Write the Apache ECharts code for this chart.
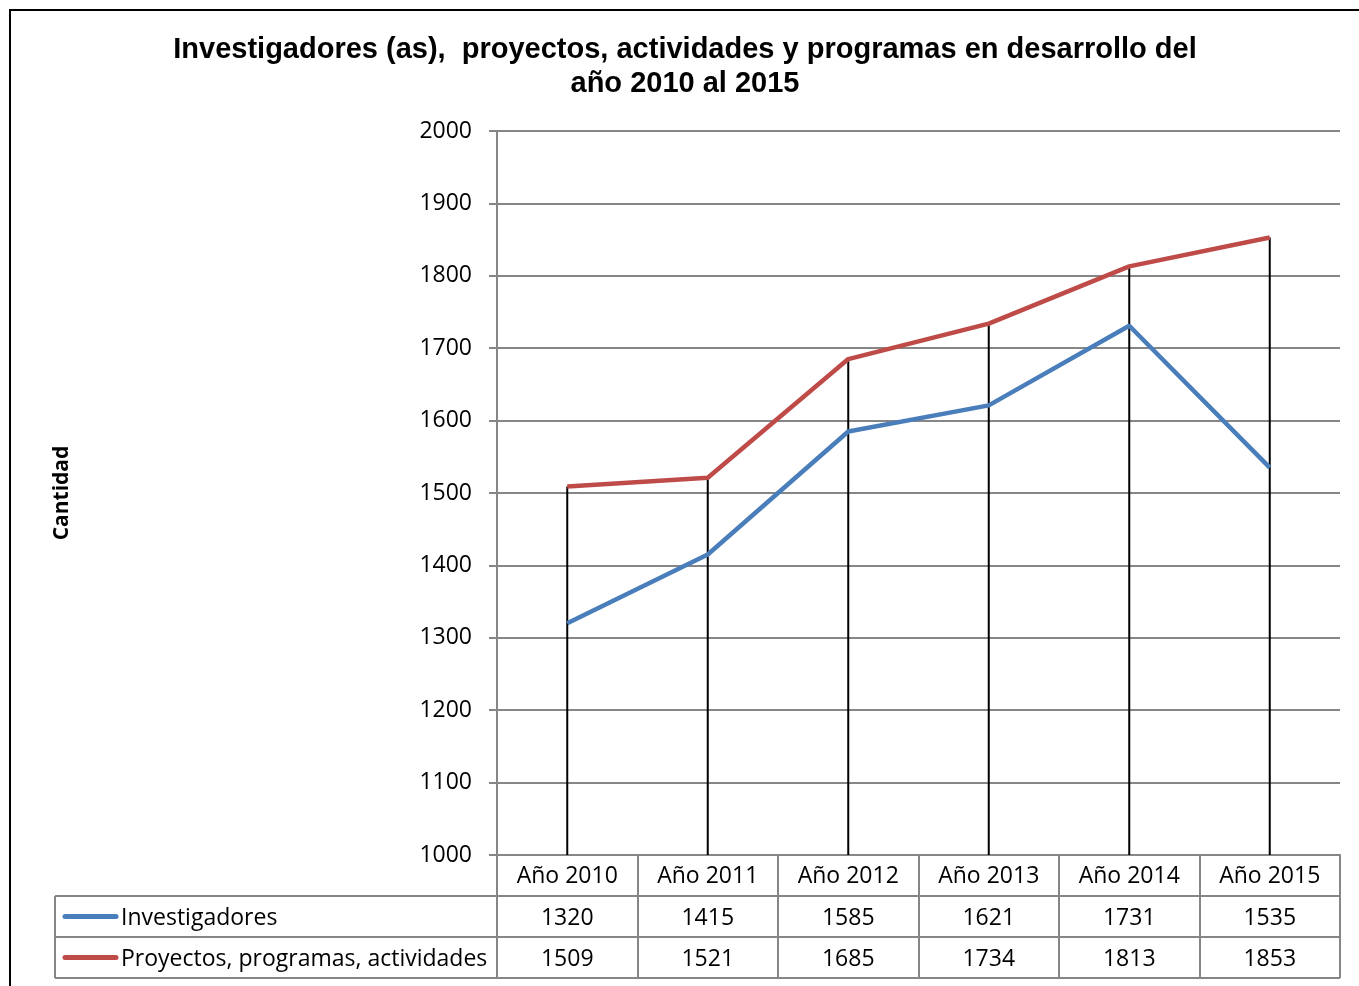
<!DOCTYPE html>
<html>
<head>
<meta charset="utf-8">
<script src="https://cdn.jsdelivr.net/npm/echarts@6/dist/echarts.min.js"></script>
<style>
    html, body { margin: 0; padding: 0; background: #fff; }
    #chart { width: 1359px; height: 986px; }
</style>
</head>
<body>
<div id="chart"></div>
<script>
    // datos del gráfico
    var categories = ['Año 2010', 'Año 2011', 'Año 2012', 'Año 2013', 'Año 2014', 'Año 2015'];
    var investigadores = [1320, 1415, 1585, 1621, 1731, 1535];
    var proyectos = [1509, 1521, 1685, 1734, 1813, 1853];
    var seriesNames = ['Investigadores', 'Proyectos, programas, actividades'];
    var titleLines = ['Investigadores (as),  proyectos, actividades y programas en desarrollo del', 'año 2010 al 2015'];

    var colors = ['#4A7EBB', '#BE4B48'];
    var gridColor = '#868686';
    var font = '"Open Sans"';
    var fontSize = 23;

    var myChart = echarts.init(document.getElementById('chart'));

    // líneas de máximo a mínimo (desde el punto más alto hasta el eje)
    var dropData = categories.map(function (c, i) {
        return [i, Math.max(investigadores[i], proyectos[i])];
    });

    var option = {
        animation: false,
        color: colors,
        grid: {
            left: 497,
            top: 131,
            width: 843,
            height: 724,
            outerBoundsMode: 'none'
        },
        xAxis: {
            type: 'category',
            data: categories,
            boundaryGap: true,
            axisLine: {show: true, lineStyle: {color: gridColor, width: 2}},
            axisTick: {show: true, length: 123, lineStyle: {color: gridColor, width: 2}},
            axisLabel: {margin: 10, color: '#000', fontFamily: 'Open Sans', fontSize: fontSize},
            splitLine: {show: false}
        },
        yAxis: {
            type: 'value',
            min: 1000,
            max: 2000,
            interval: 100,
            name: 'Cantidad',
            nameLocation: 'middle',
            nameRotate: 90,
            nameGap: 424,
            nameTextStyle: {color: '#000', fontFamily: 'Open Sans', fontSize: 21, fontWeight: 'bold'},
            axisLine: {show: true, lineStyle: {color: gridColor, width: 2}},
            axisTick: {show: true, length: 8, lineStyle: {color: gridColor, width: 2}},
            axisLabel: {
                margin: 25, color: '#000', fontFamily: 'Open Sans', fontSize: fontSize,
                formatter: function (v) { return String(v); }
            },
            splitLine: {show: true, lineStyle: {color: gridColor, width: 2}}
        },
        series: [
            {
                type: 'custom',
                name: 'drop',
                data: dropData,
                z: 1,
                renderItem: function (params, api) {
                    var top = api.coord([api.value(0), api.value(1)]);
                    var bottom = api.coord([api.value(0), 1000]);
                    return {
                        type: 'line',
                        shape: {x1: top[0], y1: top[1], x2: bottom[0], y2: bottom[1]},
                        style: {stroke: '#000', lineWidth: 2}
                    };
                }
            },
            {
                name: seriesNames[0],
                type: 'line',
                data: investigadores,
                symbol: 'none',
                z: 3,
                lineStyle: {color: colors[0], width: 4.5}
            },
            {
                name: seriesNames[1],
                type: 'line',
                data: proyectos,
                symbol: 'none',
                z: 3,
                lineStyle: {color: colors[1], width: 4.5}
            }
        ]
    };
    myChart.setOption(option);

    // tabla de datos debajo del gráfico
    var rowTops = [896, 937];
    var rowH = 41;
    var tableLeft = 55, tableRight = 1340;
    var elements = [];

    elements.push({
        type: 'rect',
        shape: {x: 10, y: 10, width: 1400, height: 1000},
        style: {fill: 'none', stroke: '#000', lineWidth: 2}
    });

    elements.push({
        type: 'text', x: 685, y: 50,
        style: {text: titleLines[0], fill: '#000', font: 'bold 29px "Liberation Sans"', align: 'center', verticalAlign: 'middle'}
    });
    elements.push({
        type: 'text', x: 685, y: 84,
        style: {text: titleLines[1], fill: '#000', font: 'bold 29px "Liberation Sans"', align: 'center', verticalAlign: 'middle'}
    });

    [rowTops[0], rowTops[1], rowTops[1] + rowH].forEach(function (y) {
        elements.push({
            type: 'line',
            shape: {x1: tableLeft, y1: y, x2: tableRight, y2: y},
            style: {stroke: gridColor, lineWidth: 2}
        });
    });
    elements.push({
        type: 'line',
        shape: {x1: tableLeft, y1: rowTops[0], x2: tableLeft, y2: rowTops[1] + rowH},
        style: {stroke: gridColor, lineWidth: 2}
    });

    var tableData = [investigadores, proyectos];
    tableData.forEach(function (values, r) {
        var cy = rowTops[r] + rowH / 2;
        elements.push({
            type: 'line',
            shape: {x1: 65, y1: cy, x2: 116, y2: cy},
            style: {stroke: colors[r], lineWidth: 5, lineCap: 'round'}
        });
        elements.push({
            type: 'text', x: 121, y: cy + 1.5,
            style: {text: seriesNames[r], fill: '#000', font: fontSize + 'px ' + font, align: 'left', verticalAlign: 'middle'}
        });
        values.forEach(function (v, i) {
            var px = myChart.convertToPixel({xAxisIndex: 0}, categories[i]);
            elements.push({
                type: 'text', x: px, y: cy + 1.5,
                style: {text: String(v), fill: '#000', font: fontSize + 'px ' + font, align: 'center', verticalAlign: 'middle'}
            });
        });
    });

    myChart.setOption({graphic: {elements: elements}});
</script>
</body>
</html>
